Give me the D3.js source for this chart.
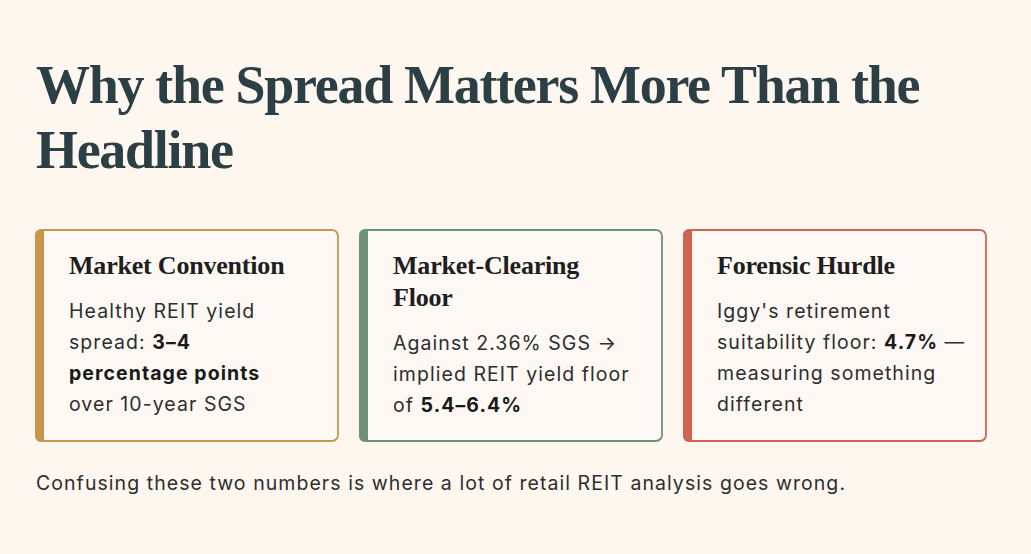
<!DOCTYPE html>
<html>
<head>
<meta charset="utf-8">
<script src="https://cdn.jsdelivr.net/npm/d3@7"></script>
<style>
  body { margin: 0; background: #fdf7f0; }
  svg { display: block; }
</style>
</head>
<body>
<svg width="1031" height="554"></svg>
<script>
var headline = ["Why the Spread Matters More Than the", "Headline"];

var cardTitles = [
  ["Market Convention"],
  ["Market-Clearing", "Floor"],
  ["Forensic Hurdle"]
];

// each line is a list of [text, bold]
var cardBodies = [
  [
    [["Healthy REIT yield", false]],
    [["spread: ", false], ["3–4", true]],
    [["percentage points", true]],
    [["over 10-year SGS", false]]
  ],
  [
    [["Against 2.36% SGS →", false]],
    [["implied REIT yield floor", false]],
    [["of ", false], ["5.4–6.4%", true]]
  ],
  [
    [["Iggy's retirement", false]],
    [["suitability floor: ", false], ["4.7%", true], [" —", false]],
    [["measuring something", false]],
    [["different", false]]
  ]
];

var cardColors = ["#c8964a", "#6e9276", "#cf6450"];

var footnote = "Confusing these two numbers is where a lot of retail REIT analysis goes wrong.";

var serif = "'Liberation Serif', 'DejaVu Serif', serif";
var sans = "Inter, 'Noto Sans', sans-serif";
var bodySize = 19.5;

var svg = d3.select("svg");

svg.append("rect").attr("width", 1031).attr("height", 554).attr("fill", "#fdf7f0");

// headline
svg.append("g").selectAll("text")
  .data(headline)
  .join("text")
  .attr("x", 36)
  .attr("y", (d, i) => 103 + i * 65)
  .attr("font-family", serif)
  .attr("font-weight", "bold")
  .attr("font-size", 54)
  .attr("letter-spacing", -1.3)
  .attr("fill", "#2b3f45")
  .text(d => d);

// footnote first, so its width sets the tracking for the wide body face
var foot = svg.append("text")
  .attr("x", 36)
  .attr("y", 490)
  .attr("font-family", sans)
  .attr("font-size", bodySize)
  .attr("fill", "#2e2e2e")
  .text(footnote);
var natural = foot.node().getComputedTextLength();
var track = Math.max(0, (809 - natural) / (footnote.length - 1));
foot.attr("letter-spacing", track);

// cards
var idx = d3.range(cardTitles.length);
var xCard = d3.scaleBand().domain(idx).range([35, 987]).paddingInner(20 / 324);
var cardTop = 229, cardH = 213, stripe = 9, r = 6;

var cards = svg.append("g").selectAll("g")
  .data(idx)
  .join("g")
  .attr("transform", i => "translate(" + xCard(i) + "," + cardTop + ")");

cards.append("rect")
  .attr("x", 1).attr("y", 1)
  .attr("width", xCard.bandwidth() - 2)
  .attr("height", cardH - 2)
  .attr("rx", r)
  .attr("fill", "#fdf8f3")
  .attr("stroke", i => cardColors[i])
  .attr("stroke-width", 1.8);

// thick left stripe with rounded outer corners
cards.append("path")
  .attr("d", "M" + stripe + ",0 H" + r + " A" + r + "," + r + " 0 0 0 0," + r +
    " V" + (cardH - r) + " A" + r + "," + r + " 0 0 0 " + r + "," + cardH + " H" + stripe + " Z")
  .attr("fill", i => cardColors[i]);

cards.each(function(i) {
  var g = d3.select(this);
  var tx = 34;
  var titles = cardTitles[i];
  g.selectAll("text.ttl")
    .data(titles)
    .join("text")
    .attr("class", "ttl")
    .attr("x", tx)
    .attr("y", (d, j) => 45 + j * 32)
    .attr("font-family", serif)
    .attr("font-weight", "bold")
    .attr("font-size", 26)
    .attr("letter-spacing", -0.2)
    .attr("fill", "#1e1e1e")
    .text(d => d);

  var bodyTop = 45 + (titles.length - 1) * 32 + 44;
  var lines = g.selectAll("text.body")
    .data(cardBodies[i])
    .join("text")
    .attr("class", "body")
    .attr("x", tx)
    .attr("y", (d, j) => bodyTop + j * 31)
    .attr("font-family", sans)
    .attr("font-size", bodySize)
    .attr("letter-spacing", track)
    .attr("fill", "#2e2e2e");
  lines.selectAll("tspan")
    .data(d => d)
    .join("tspan")
    .attr("font-weight", d => d[1] ? 700 : null)
    .attr("fill", d => d[1] ? "#1a1a1a" : null)
    .text(d => d[0]);
});
</script>
</body>
</html>
